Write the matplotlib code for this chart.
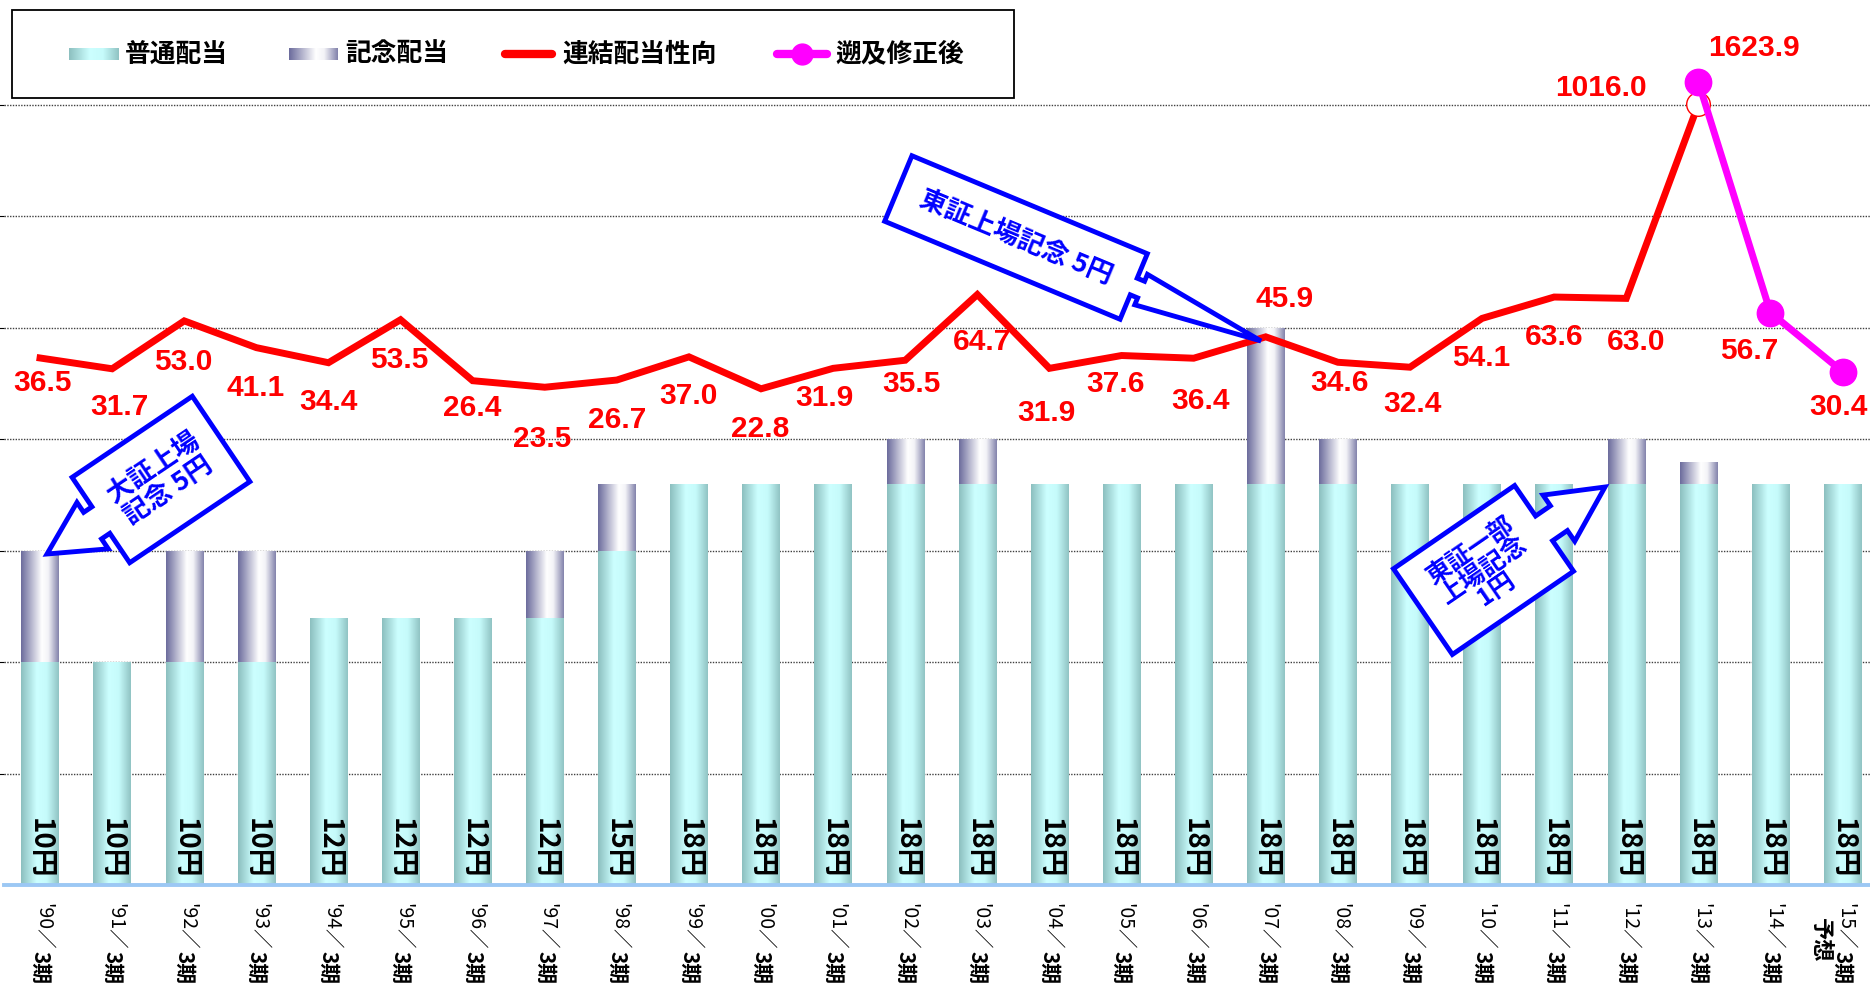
import numpy as np
import matplotlib
matplotlib.use("Agg")
import matplotlib.pyplot as plt
from matplotlib.colors import LinearSegmentedColormap
from matplotlib.patches import Polygon, Rectangle

JP = ["Noto Sans CJK JP", "DejaVu Sans"]
NUM = ["Liberation Sans", "DejaVu Sans"]

# data
years = ["'90", "'91", "'92", "'93", "'94", "'95", "'96", "'97", "'98", "'99",
         "'00", "'01", "'02", "'03", "'04", "'05", "'06", "'07", "'08", "'09",
         "'10", "'11", "'12", "'13", "'14", "'15"]
regular = [10, 10, 10, 10, 12, 12, 12, 12, 15, 18, 18, 18, 18, 18, 18, 18, 18,
           18, 18, 18, 18, 18, 18, 18, 18, 18]
kinen = [5, 0, 5, 5, 0, 0, 0, 3, 3, 0, 0, 0, 2, 2, 0, 0, 0, 7, 2, 0, 0, 0, 2, 1, 0, 0]
ratio = [36.5, 31.7, 53.0, 41.1, 34.4, 53.5, 26.4, 23.5, 26.7, 37.0, 22.8, 31.9,
         35.5, 64.7, 31.9, 37.6, 36.4, 45.9, 34.6, 32.4, 54.1, 63.6, 63.0, 1016.0]
retro_x = [23, 24, 25]
retro = [1623.9, 56.7, 30.4]

# label offsets (pixels, dy positive = below the point)
lab_dx = [2, 7, -1, -1, 0, -1, 0, -3, 0, 0, -1, -9, 6, 5, -3, -6, 7, 19, 2, 3, -1, 0, 10, -97]
lab_dy = [25, 38, 41, 40, 39, 40, 27, 52, 40, 39, 40, 30, 24, 47, 45, 28, 43, -38, 21, 37, 40, 40, 44, -16]
retro_dx = [56, -21, -4]
retro_dy = [-34, 38, 35]

W, H = 1870, 985
fig = plt.figure(figsize=(W / 100, H / 100), dpi=100)
fig.patch.set_facecolor("white")

n = len(years)
slot = 72.1
x_left = 4
y_base = 885
unit = 780 / 35.0
ytop = 35.1
ax = fig.add_axes([x_left / W, (H - y_base) / H, n * slot / W, ytop * unit / H])
ax.set_facecolor("none")

# compressed scale for the very large payout ratios
def fwd(v):
    v = np.asarray(v, dtype=float)
    return np.where(v <= 100, v, 100 + 49 * np.log10(np.maximum(v, 100) / 100))

def inv(d):
    d = np.asarray(d, dtype=float)
    return np.where(d <= 100, d, 100 * 10 ** ((np.minimum(d, 400) - 100) / 49))

cmap_reg = LinearSegmentedColormap.from_list(
    "reg", [(0, "#8cbfbf"), (0.42, "#ccffff"), (0.68, "#c6fbfb"), (1, "#90c3c3")])
cmap_kin = LinearSegmentedColormap.from_list(
    "kin", [(0, "#6b6b9c"), (0.55, "#ffffff"), (0.72, "#f3f3f7"), (1, "#8282ab")])
grad = np.linspace(0, 1, 256).reshape(1, -1)

xs = np.arange(n)
b1 = ax.bar(xs, regular, width=0.52, color="none", edgecolor="none", zorder=1)
b2 = ax.bar(xs, kinen, width=0.52, bottom=regular, color="none", edgecolor="none", zorder=1)
for bars, cm in ((b1, cmap_reg), (b2, cmap_kin)):
    for r in bars:
        if r.get_height() <= 0:
            continue
        x0, y0, w, h = r.get_x(), r.get_y(), r.get_width(), r.get_height()
        im = ax.imshow(grad, extent=[x0, x0 + w, y0, y0 + h], aspect="auto",
                       cmap=cm, interpolation="bilinear", zorder=1.5)
        im.set_clip_path(r)

for i, r in enumerate(regular):
    ax.annotate(f"{r}円", xy=(i, 0), xytext=(0, 7), textcoords="offset pixels",
                rotation=270, ha="center", va="bottom", fontsize=20,
                fontweight="bold", family=JP, zorder=4)
    ax.annotate(f"{years[i]}／", xy=(i, 0), xytext=(2, -18), textcoords="offset pixels",
                rotation=270, ha="center", va="top", fontsize=14, family=JP,
                annotation_clip=False)
    ax.annotate("3期", xy=(i, 0), xytext=(0, -66), textcoords="offset pixels",
                rotation=270, ha="center", va="top", fontsize=15, fontweight="bold",
                family=JP, annotation_clip=False)
ax.annotate("予想", xy=(n - 1, 0), xytext=(-22, -33), textcoords="offset pixels",
            rotation=270, ha="center", va="top", fontsize=16, fontweight="bold",
            family=JP, annotation_clip=False)

ax.set_xlim(-0.5, n - 0.5)
ax.set_ylim(0, ytop)
ax.set_xticks([])
ax.set_yticks(np.arange(5, 36, 5))
ax.tick_params(left=False, labelleft=False)
ax.set_axisbelow(True)
ax.yaxis.grid(True, color="#404040", linestyle=(0, (1, 1)), linewidth=1.0)
for s in ("left", "right", "top"):
    ax.spines[s].set_visible(False)
ax.spines["bottom"].set_color("#9cc8f4")
ax.spines["bottom"].set_linewidth(2.8)

# payout ratio line
ax2 = ax.twinx()
ax2.set_yscale("function", functions=(fwd, inv))
px_per = 2.249
r_lo = 22.8 - (y_base - 388.8) / px_per
r_hi = 22.8 + (388.8 - (y_base - ytop * unit)) / px_per
ax2.set_ylim(r_lo, float(inv(r_hi)))
ax2.set_yticks([])
ax2.minorticks_off()
for s in ax2.spines.values():
    s.set_visible(False)

ax2.plot(xs[:len(ratio)], ratio, color="#ff0000", lw=5, zorder=3, clip_on=False,
         solid_joinstyle="miter")
ax2.plot([len(ratio) - 1], [ratio[-1]], "o", ms=17, mfc="white", mec="#ff0000",
         mew=1.0, zorder=3.5, clip_on=False)
ax2.plot(retro_x, retro, color="#ff00ff", lw=5, marker="o", ms=19, zorder=4,
         clip_on=False)

for i, v in enumerate(ratio):
    ax2.annotate(f"{v:.1f}", xy=(i, v), xytext=(lab_dx[i], -lab_dy[i]),
                 textcoords="offset pixels", ha="center", va="center",
                 fontsize=21.5, fontweight="bold", color="#ff0000", family=NUM,
                 annotation_clip=False, zorder=5)
for k, i in enumerate(retro_x):
    ax2.annotate(f"{retro[k]:.1f}", xy=(i, retro[k]), xytext=(retro_dx[k], -retro_dy[k]),
                 textcoords="offset pixels", ha="center", va="center",
                 fontsize=21.5, fontweight="bold", color="#ff0000", family=NUM,
                 annotation_clip=False, zorder=5)

# overlay in pixel coordinates (y down) for legend and callouts
ov = fig.add_axes([0, 0, 1, 1], zorder=10)
ov.set_axis_off()


def callout(c, L, Hh, ang, side, tip, sw, hw, sl, text, fs, ls=1.0):
    t = np.radians(ang)
    u = np.array([np.cos(t), -np.sin(t)])
    v = np.array([np.sin(t), np.cos(t)])
    c = np.array(c, dtype=float)
    d = np.array(tip, dtype=float) - c
    tx, ty = side * (d @ u), d @ v
    a = L / 2
    loc = [(-a, -Hh / 2), (a, -Hh / 2), (a, -sw / 2), (a + sl, -sw / 2),
           (a + sl, -hw / 2), (tx, ty), (a + sl, hw / 2), (a + sl, sw / 2),
           (a, sw / 2), (a, Hh / 2), (-a, Hh / 2)]
    pts = [c + side * x * u + y * v for x, y in loc]
    ov.add_patch(Polygon(pts, closed=True, facecolor="white", edgecolor="#0000ff",
                         lw=3.5, joinstyle="miter"))
    ov.text(c[0], c[1], text, rotation=ang, rotation_mode="anchor", ha="center",
            va="center", multialignment="center", fontsize=fs, fontweight="bold",
            color="#0000ff", family=JP, linespacing=ls)


callout((161, 479.5), 145, 103, 34, -1, (47, 554), 32, 56, 10, "大証上場\n記念 5円", 19, 1.05)
callout((1016, 237.5), 255, 71, -22.6, 1, (1261, 341), 18, 33, 8, "東証上場記念 5円", 19)
callout((1483.5, 570), 147, 104, 34.5, 1, (1605, 487), 30, 56, 18, "東証一部\n上場記念\n1円", 18, 0.95)

# legend
ov.add_patch(Rectangle((12, 10), 1002, 88, facecolor="white", edgecolor="black", lw=1.3, zorder=1))
ov.imshow(grad, extent=[69, 119, 60, 48], aspect="auto", cmap=cmap_reg, zorder=2)
ov.imshow(grad, extent=[289, 338, 60, 48], aspect="auto", cmap=cmap_kin, zorder=2)
ov.plot([505, 552], [54, 54], color="#ff0000", lw=6, solid_capstyle="round", zorder=2)
ov.plot([777, 827], [54, 54], color="#ff00ff", lw=6, solid_capstyle="round", zorder=2)
ov.plot([802], [54], "o", color="#ff00ff", ms=15, zorder=2)
for x, s in ((125, "普通配当"), (345, "記念配当"), (562, "連結配当性向"), (835, "遡及修正後")):
    ov.text(x, 54, s, ha="left", va="center", fontsize=18.5, fontweight="bold", family=JP)

ov.set_xlim(0, W)
ov.set_ylim(H, 0)

fig.savefig("out.png", dpi=100)
